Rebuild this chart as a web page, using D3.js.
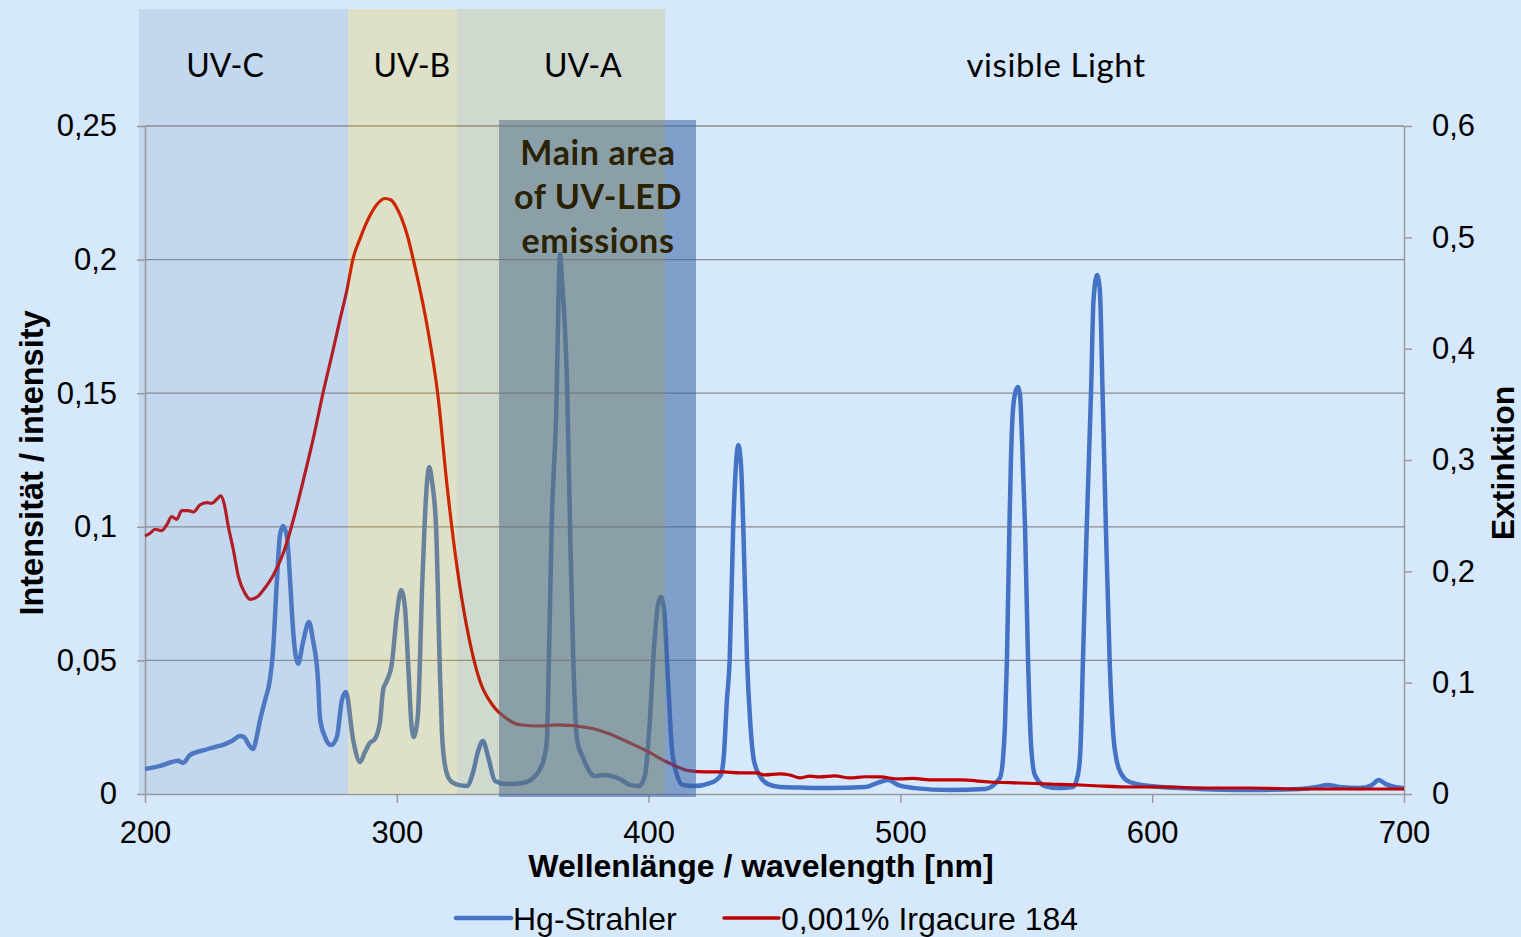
<!DOCTYPE html>
<html>
<head>
<meta charset="utf-8">
<script src="https://cdn.jsdelivr.net/npm/d3@7"></script>
<style>
  html, body { margin: 0; padding: 0; background: #d6e8fb; }
</style>
</head>
<body>
<div id="chart"></div>
<script>
const width = 1521;
const height = 937;

// Hg lamp spectrum (left axis)
const hgNm = [200, 206, 210.7, 213.1, 215.1, 217.9, 223.8, 227.8, 231.8, 234.5, 237.7, 239.3, 241.3, 242.9, 244.5, 245.7,
  247.7, 249.6, 250.8, 252.4, 253.6, 254.8, 256.4, 257.6, 258.8, 260.8, 262.7, 265.1, 266.7, 268.7, 269.5, 271.5, 273.9,
  276.2, 278.2, 279.8, 282.6, 285.4, 287.4, 289.3, 291.3, 293.3, 294.6, 296.0, 298.0, 300.0, 301.7, 303.2, 304.6, 305.9,
  306.8, 307.6, 308.5, 309.2, 310.0, 311.0, 312.0, 312.9, 314.0, 315.6, 317.0, 317.9, 319.1, 321.1, 324.3, 327.9, 330.3,
  332.2, 334.2, 336.2, 339.0, 343.8, 350.1, 354.2, 356.9, 358.8, 359.6, 360.4, 361.5, 363.5, 364.2, 364.8, 365.6, 367.7,
  368.8, 370.1, 371.6, 374.0, 376.7, 378.7, 382.7, 385.4, 388.6, 392.6, 396.2, 398.6, 400.5, 402.1, 403.7, 404.9, 406.1,
  407.7, 409.3, 411.3, 413.6, 418.4, 424.4, 426.4, 428.7, 429.9, 431.1, 432.2, 433.6, 434.7, 435.6, 436.7, 437.6, 439.1,
  440.3, 441.8, 444.2, 447.4, 452.2, 460, 472, 485.9, 491.9, 495.1, 499.0, 505.8, 519.7, 533.6, 539.5, 540.7, 541.5,
  542.3, 543.3, 543.9, 544.7, 545.7, 546.7, 547.5, 548.3, 549.5, 550.7, 551.9, 553.4, 557.4, 563.4, 568.5, 570.5, 571.5,
  572.5, 574.0, 575.7, 576.7, 578.1, 579.2, 580.3, 581.6, 583.1, 584.4, 586.0, 588.0, 591.1, 599.1, 619.0, 638.8, 658.7,
  665.4, 669.4, 674.5, 682.5, 687.3, 690.0, 692.8, 696.4, 700];
const hgValues = [0.0094, 0.0105, 0.012, 0.0124, 0.0116, 0.0146, 0.0165, 0.0176, 0.0187, 0.0198, 0.0217, 0.0213, 0.0183, 0.0168, 0.022, 0.0277,
  0.0352, 0.0427, 0.0528, 0.0801, 0.0969, 0.1003, 0.0962, 0.0801, 0.0614, 0.0487, 0.0565, 0.0644, 0.0576, 0.0427, 0.0284, 0.0213, 0.0183,
  0.0213, 0.0352, 0.0382, 0.0206, 0.012, 0.0158, 0.0191, 0.0206, 0.0267, 0.0391, 0.0423, 0.0485, 0.0671, 0.0763, 0.0702, 0.0469, 0.0251,
  0.0213, 0.024, 0.0314, 0.05, 0.0763, 0.1, 0.1168, 0.1224, 0.1168, 0.1, 0.05, 0.0236, 0.0109, 0.0052, 0.0034, 0.003, 0.0082,
  0.0157, 0.0198, 0.0142, 0.0049, 0.0037, 0.0041, 0.006, 0.0094, 0.0146, 0.0202, 0.05, 0.1, 0.15, 0.185, 0.2021, 0.1924, 0.15,
  0.1, 0.05, 0.0202, 0.0135, 0.0082, 0.0067, 0.0071, 0.0067, 0.0056, 0.0034, 0.003, 0.0071, 0.0277, 0.0539, 0.0707, 0.0737, 0.0689,
  0.0427, 0.0165, 0.0071, 0.0034, 0.003, 0.0041, 0.0049, 0.0071, 0.0146, 0.0352, 0.05, 0.1, 0.1231, 0.1306, 0.1231, 0.1, 0.05,
  0.0277, 0.0127, 0.0067, 0.0037, 0.0026, 0.0024, 0.0022, 0.0026, 0.0045, 0.0052, 0.0034, 0.0022, 0.0015, 0.0019, 0.006, 0.0127, 0.025,
  0.05, 0.1, 0.125, 0.1437, 0.1504, 0.1523, 0.1493, 0.1325, 0.1, 0.05, 0.0183, 0.0071, 0.003, 0.0022, 0.0026, 0.0071, 0.0165,
  0.05, 0.1, 0.15, 0.1849, 0.1942, 0.1886, 0.15, 0.1, 0.05, 0.024, 0.012, 0.0071, 0.0045, 0.003, 0.0019, 0.0015, 0.0019,
  0.0026, 0.0034, 0.0026, 0.0022, 0.0034, 0.0052, 0.0037, 0.0026, 0.0022];

// Irgacure 184 extinction (right axis)
const irgNm = [200, 202, 204, 206.6, 208.6, 210.6, 212.6, 214.6, 217.2, 219.2, 221.8, 224.5, 226.5, 228.5, 230.1, 231.4,
  233.1, 235.1, 237.1, 239.7, 241.7, 245, 247, 251, 254.9, 258.9, 262.9, 266.7, 270.7, 274.7, 277.4, 280.1, 282.7, 285.4,
  289.4, 292.5, 295.3, 297.7, 300, 303.9, 307.9, 311.9, 316.5, 319.8, 323.8, 327.8, 333, 338.3, 343.6, 348.9, 356.9, 363.6,
  376.7, 383.5, 392.6, 399.3, 407.3, 416.4, 422.4, 429.5, 436.3, 443, 446.2, 452, 456.1, 460.1, 464, 468, 474, 480, 486,
  491.9, 499.8, 505, 511.7, 523.6, 535.6, 547.5, 559.4, 571.3, 579.2, 592.3, 607, 619, 638.8, 658.7, 678.5, 700];
const irgValues = [0.2317, 0.2342, 0.2378, 0.2365, 0.2416, 0.2491, 0.2467, 0.2545, 0.2545, 0.2533, 0.2596, 0.2617, 0.2611, 0.2647, 0.2677, 0.2611,
  0.2401, 0.2192, 0.1952, 0.1803, 0.1749, 0.1778, 0.1832, 0.1967, 0.2162, 0.2461, 0.282, 0.318, 0.3602, 0.3988, 0.4258, 0.4518, 0.4815, 0.4989,
  0.5198, 0.5306, 0.5349, 0.5335, 0.5264, 0.5039, 0.4666, 0.4222, 0.3548, 0.2802, 0.2057, 0.15, 0.1015, 0.079, 0.0678, 0.0622, 0.0611, 0.062,
  0.0593, 0.0548, 0.0458, 0.0386, 0.0287, 0.0207, 0.0198, 0.0198, 0.0189, 0.0189, 0.0171, 0.018, 0.0171, 0.0144, 0.016, 0.0153, 0.0162, 0.0144, 0.0155,
  0.0153, 0.0135, 0.014, 0.0126, 0.0126, 0.0108, 0.0099, 0.009, 0.0081, 0.0072, 0.0063, 0.0063, 0.0054, 0.0054, 0.0045, 0.0045, 0.0045];

// spectral bands
const bandNames = ["UV-C", "UV-B", "UV-A"];
const bandFrom = [197.6, 280.6, 324];
const bandTo = [280.6, 324, 406.5];
const bandLabelNm = [231.8, 306.0, 373.9];
const bandColors = ["rgb(119,152,191)", "rgb(254,197,0)", "rgb(184,162,31)"];
const visibleLabel = "visible Light";
const visibleLabelNm = 561.8;
const ledArea = [340.6, 418.8];
const ledLines = ["Main area", "of UV-LED", "emissions"];

const leftTicks = [0, 0.05, 0.1, 0.15, 0.2, 0.25];
const rightTicks = [0, 0.1, 0.2, 0.3, 0.4, 0.5, 0.6];
const xTicks = [200, 300, 400, 500, 600, 700];

const seriesNames = ["Hg-Strahler", "0,001% Irgacure 184"];
const seriesColors = ["#4472c4", "#c00000"];

const x = d3.scaleLinear().domain([200, 700]).range([145, 1404]);
const yL = d3.scaleLinear().domain([0, 0.25]).range([794, 126]);
const yR = d3.scaleLinear().domain([0, 0.6]).range([794, 126]);

const de = d3.formatLocale({ decimal: ",", thousands: ".", grouping: [3], currency: ["", "€"] });
const fmt = de.format(".2~f");

const svg = d3.select("#chart")
  .append("svg")
  .attr("width", width)
  .attr("height", height)
  .style("font-family", "'Liberation Sans', Arial, sans-serif");

svg.append("rect")
  .attr("width", width)
  .attr("height", height)
  .attr("fill", "#d6e8fb");

// gridlines
svg.append("g")
  .selectAll("line")
  .data(leftTicks.slice(1))
  .enter()
  .append("line")
  .attr("x1", x(200))
  .attr("x2", x(700))
  .attr("y1", function(d) { return yL(d); })
  .attr("y2", function(d) { return yL(d); })
  .attr("stroke", "#8c8c8c")
  .attr("stroke-width", 1.3);

// axes
function styleAxis(g) {
  g.select(".domain").attr("stroke", "#9a9a9a").attr("stroke-width", 1.5);
  g.selectAll(".tick line").attr("stroke", "#9a9a9a").attr("stroke-width", 1.5);
  g.selectAll("text").attr("fill", "#000").style("font-size", "31px")
    .style("font-family", "'Liberation Sans', Arial, sans-serif");
}

svg.append("g")
  .attr("transform", "translate(" + x(200) + ",0)")
  .call(d3.axisLeft(yL).tickValues(leftTicks).tickFormat(fmt).tickSize(8).tickPadding(20).tickSizeOuter(0))
  .call(styleAxis);

svg.append("g")
  .attr("transform", "translate(" + x(700) + ",0)")
  .call(d3.axisRight(yR).tickValues(rightTicks).tickFormat(fmt).tickSize(8).tickPadding(20).tickSizeOuter(0))
  .call(styleAxis);

svg.append("g")
  .attr("transform", "translate(0," + yL(0) + ")")
  .call(d3.axisBottom(x).tickValues(xTicks).tickFormat(d3.format("d")).tickSize(9).tickPadding(18).tickSizeOuter(0))
  .call(styleAxis);

// series
const hgData = hgNm.map(function(d, i) { return [d, hgValues[i]]; });
const irgData = irgNm.map(function(d, i) { return [d, irgValues[i]]; });

const hgLine = d3.line()
  .x(function(d) { return x(d[0]); })
  .y(function(d) { return yL(d[1]); })
  .curve(d3.curveMonotoneX);

const irgLine = d3.line()
  .x(function(d) { return x(d[0]); })
  .y(function(d) { return yR(d[1]); })
  .curve(d3.curveMonotoneX);

svg.append("path")
  .datum(hgData)
  .attr("d", hgLine)
  .attr("fill", "none")
  .attr("stroke", seriesColors[0])
  .attr("stroke-width", 4.5)
  .attr("stroke-linejoin", "round");

svg.append("path")
  .datum(irgData)
  .attr("d", irgLine)
  .attr("fill", "none")
  .attr("stroke", seriesColors[1])
  .attr("stroke-width", 3.2)
  .attr("stroke-linejoin", "round");

// LED emission area overlay
svg.append("rect")
  .attr("x", x(ledArea[0]))
  .attr("y", 120)
  .attr("width", x(ledArea[1]) - x(ledArea[0]))
  .attr("height", 797 - 120)
  .attr("fill", "rgb(58,99,164)")
  .attr("fill-opacity", 0.55);

// UV bands overlay
svg.append("g")
  .selectAll("rect")
  .data(bandNames)
  .enter()
  .append("rect")
  .attr("x", function(d, i) { return x(bandFrom[i]); })
  .attr("y", 9)
  .attr("width", function(d, i) { return x(bandTo[i]) - x(bandFrom[i]); })
  .attr("height", yL(0) - 9)
  .attr("fill", function(d, i) { return bandColors[i]; })
  .attr("fill-opacity", 0.2);

svg.append("g")
  .selectAll("text")
  .data(bandNames)
  .enter()
  .append("text")
  .attr("x", function(d, i) { return x(bandLabelNm[i]); })
  .attr("y", 77)
  .attr("text-anchor", "middle")
  .style("font-family", "Lato, 'Open Sans', sans-serif")
  .style("font-size", "32px")
  .attr("fill", "#000")
  .text(function(d) { return d; });

svg.append("text")
  .attr("x", x(visibleLabelNm))
  .attr("y", 77)
  .attr("text-anchor", "middle")
  .style("font-family", "Lato, 'Open Sans', sans-serif")
  .style("font-size", "33px")
  .style("letter-spacing", "0.6px")
  .attr("fill", "#000")
  .text(visibleLabel);

svg.append("g")
  .selectAll("text")
  .data(ledLines)
  .enter()
  .append("text")
  .attr("x", 598)
  .attr("y", function(d, i) { return 165 + i * 44; })
  .attr("text-anchor", "middle")
  .style("font-family", "Lato, 'Open Sans', sans-serif")
  .style("font-size", "34px")
  .style("letter-spacing", "0.6px")
  .style("font-weight", "bold")
  .attr("fill", "#2a2200")
  .text(function(d) { return d; });

// axis titles
svg.append("text")
  .attr("x", 761)
  .attr("y", 877)
  .attr("text-anchor", "middle")
  .style("font-size", "32px")
  .style("font-weight", "bold")
  .text("Wellenlänge / wavelength [nm]");

svg.append("text")
  .attr("transform", "translate(43,463) rotate(-90)")
  .attr("text-anchor", "middle")
  .style("font-size", "32.5px")
  .style("font-weight", "bold")
  .text("Intensität / intensity");

svg.append("text")
  .attr("transform", "translate(1514,463) rotate(-90)")
  .attr("text-anchor", "middle")
  .style("font-size", "32px")
  .style("font-weight", "bold")
  .text("Extinktion");

// legend
const legendX = [456, 724];
const legend = svg.append("g")
  .selectAll("g")
  .data(seriesNames)
  .enter()
  .append("g")
  .attr("transform", function(d, i) { return "translate(" + legendX[i] + ",918)"; });

legend.append("line")
  .attr("x1", 0)
  .attr("x2", 55)
  .attr("stroke", function(d, i) { return seriesColors[i]; })
  .attr("stroke-width", function(d, i) { return i === 0 ? 4.5 : 3.5; })
  .attr("stroke-linecap", "round");

legend.append("text")
  .attr("x", 57)
  .attr("y", 12)
  .style("font-size", "32px")
  .text(function(d) { return d; });
</script>
</body>
</html>
